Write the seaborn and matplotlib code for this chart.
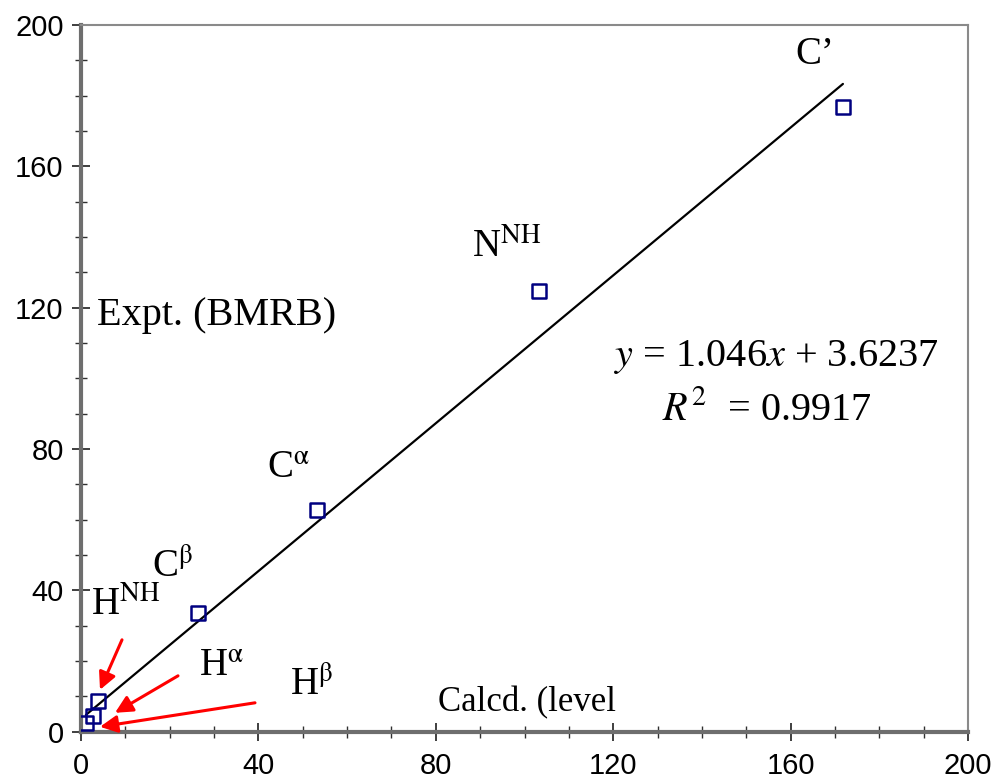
import numpy as np
import matplotlib
matplotlib.use("Agg")
import matplotlib.pyplot as plt
import seaborn as sns
import pandas as pd
from matplotlib.ticker import MultipleLocator

# chemical shifts: calculated vs experimental (BMRB)
labels = ["C’", "N$^{\\mathrm{NH}}$", "C$^{\\mathrm{α}}$", "C$^{\\mathrm{β}}$",
          "H$^{\\mathrm{NH}}$", "H$^{\\mathrm{α}}$", "H$^{\\mathrm{β}}$"]
calcd = [171.8, 103.3, 53.2, 26.4, 3.8, 2.7, 1.1]
expt = [176.8, 124.8, 62.8, 33.7, 8.8, 4.5, 2.5]
slope = 1.046
intercept = 3.6237
r2 = 0.9917

df = pd.DataFrame({"calcd": calcd, "expt": expt, "label": labels})

sns.set_style("white", {"xtick.bottom": True, "ytick.left": True})
plt.rcParams["font.family"] = ["Liberation Sans", "DejaVu Sans"]
plt.rcParams["mathtext.fontset"] = "stix"
plt.rcParams["text.color"] = "black"
plt.rcParams["xtick.labelcolor"] = "black"
plt.rcParams["ytick.labelcolor"] = "black"

fig = plt.figure(figsize=(10, 7.81), dpi=100)
ax = fig.add_axes([0.081, 0.063, 0.887, 0.905])

# fitted line across the data range
xs = np.array([min(calcd), max(calcd)])
sns.lineplot(x=xs, y=slope * xs + intercept, ax=ax, color="black", linewidth=1.6)

sns.scatterplot(data=df, x="calcd", y="expt", ax=ax, marker="s", s=100,
                facecolor="none", edgecolor="#000080", linewidth=1.8, zorder=3)

ax.set_xlim(0, 200)
ax.set_ylim(0, 200)
ax.xaxis.set_major_locator(MultipleLocator(40))
ax.yaxis.set_major_locator(MultipleLocator(40))
ax.xaxis.set_minor_locator(MultipleLocator(10))
ax.yaxis.set_minor_locator(MultipleLocator(10))
ax.tick_params(which="major", direction="inout", length=13, width=1.3,
               labelsize=21, color="#303030")
ax.tick_params(which="minor", direction="inout", length=8, width=1.0,
               color="#303030", bottom=True, left=True)
ax.tick_params(axis="x", pad=8)
ax.tick_params(axis="y", pad=6)
ax.set_xlabel("")
ax.set_ylabel("")

for side in ["left", "bottom"]:
    ax.spines[side].set_color("#6e6e6e")
    ax.spines[side].set_linewidth(3)
for side in ["top", "right"]:
    ax.spines[side].set_color("#8a8a8a")
    ax.spines[side].set_linewidth(1.5)

serif = ["Liberation Serif", "DejaVu Serif"]


def to_data(px, py):
    return (px - 81) / 4.435, (732 - py) / 3.535


# point labels
label_pos = [(815, 55), (507, 248), (288, 468), (173, 568), (126, 606), (222, 666), (312, 686)]
for lab, (px, py) in zip(labels, label_pos):
    ax.text(*to_data(px, py), lab, fontsize=28, family=serif, ha="center", va="center")

ax.text(*to_data(97, 316), "Expt. (BMRB)", fontsize=29, family=serif,
        ha="left", va="center")
ax.text(*to_data(527, 703), "Calcd. (level", fontsize=25, family=serif,
        ha="center", va="center")

ax.text(*to_data(776, 357), "$y$ = %.3f$x$ + %.4f" % (slope, intercept),
        fontsize=29, family=serif, ha="center", va="center")
ax.text(*to_data(767, 410), "$R^2$  = %.4f" % r2, fontsize=29, family=serif,
        ha="center", va="center")

# red arrows pointing at the hydrogen points
arrows = [((122, 640), (100, 690)), ((178, 676), (115, 713)), ((255, 703), (100, 727))]
for start, end in arrows:
    ax.annotate("", xy=to_data(*end), xytext=to_data(*start),
                arrowprops=dict(arrowstyle="-|>", color="red", lw=2.2,
                                mutation_scale=26, shrinkA=0, shrinkB=0))

fig.savefig("out.png", dpi=100)
